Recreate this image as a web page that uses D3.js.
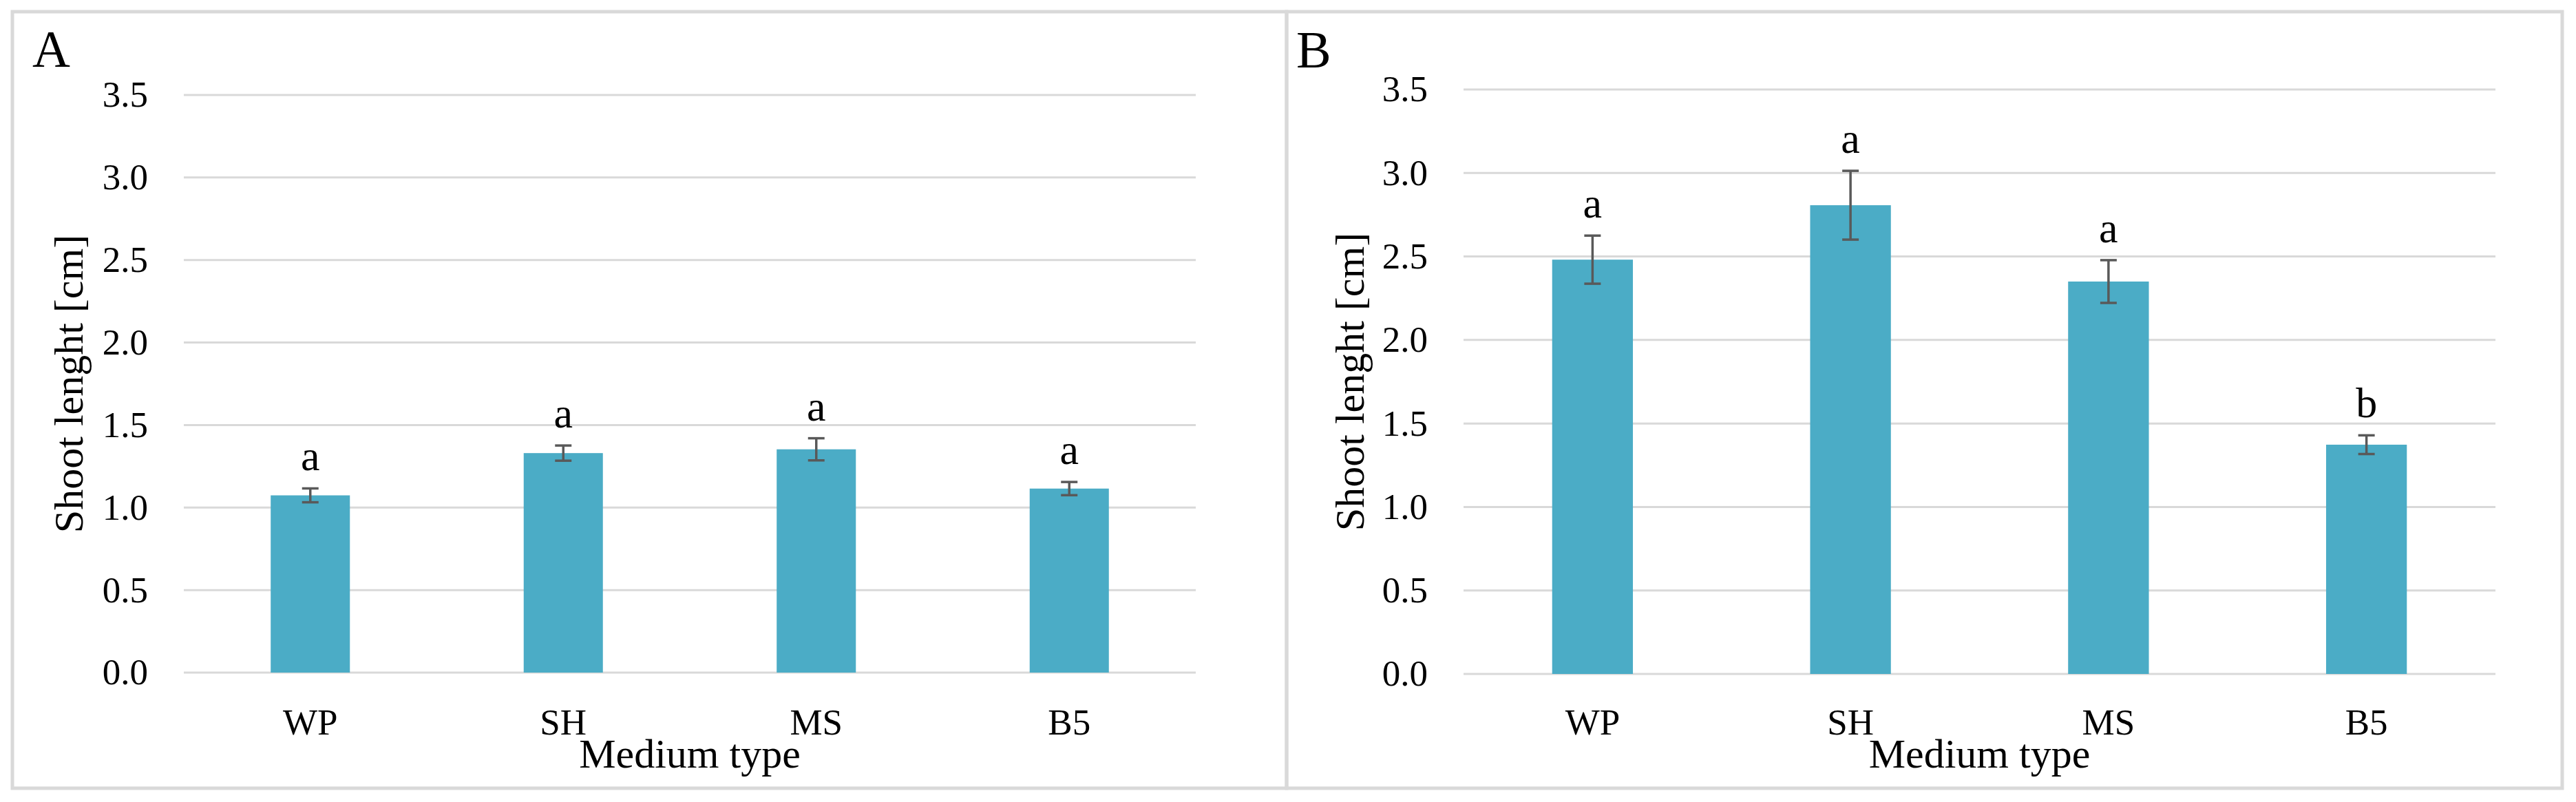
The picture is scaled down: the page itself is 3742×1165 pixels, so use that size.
<!DOCTYPE html>
<html>
<head>
<meta charset="utf-8">
<script src="https://cdn.jsdelivr.net/npm/d3@7/dist/d3.min.js"></script>
<style>
  html, body { margin: 0; padding: 0; background: #ffffff; }
  svg { display: block; }
  text { font-family: "Liberation Serif", "Times New Roman", serif; fill: #000; }
</style>
</head>
<body>
<svg id="chart" width="3742" height="1165"></svg>
<script>
// ---- data ----
const categories = ["WP", "SH", "MS", "B5"];
const yTicks = [0, 0.5, 1.0, 1.5, 2.0, 2.5, 3.0, 3.5];
const panelLetters = ["A", "B"];

const meansA = [1.074, 1.330, 1.353, 1.115];
const errorsA = [0.042, 0.046, 0.067, 0.040];
const lettersA = ["a", "a", "a", "a"];

const meansB = [2.481, 2.807, 2.350, 1.373];
const errorsB = [0.144, 0.206, 0.128, 0.056];
const lettersB = ["a", "a", "a", "b"];

const yTitle = "Shoot lenght [cm]";
const xTitle = "Medium type";

// ---- layout ----
const svg = d3.select("#chart");
const barColor = "#4bacc6";
const gridColor = "#d9d9d9";
const errColor = "#595959";

const panels = [
  { letter: panelLetters[0], means: meansA, errs: errorsA, letters: lettersA,
    frame: [18, 17, 1869, 1145], x0: 267, x1: 1737, yTop: 138, yBot: 977,
    letterPos: [47, 97], yTitleX: 120 },
  { letter: panelLetters[1], means: meansB, errs: errorsB, letters: lettersB,
    frame: [1869, 17, 3722, 1145], x0: 2126, x1: 3625, yTop: 130, yBot: 979,
    letterPos: [1883, 98], yTitleX: 1981 }
];

panels.forEach(p => {
  const g = svg.append("g");
  // frame
  g.append("rect")
    .attr("x", p.frame[0]).attr("y", p.frame[1])
    .attr("width", p.frame[2] - p.frame[0]).attr("height", p.frame[3] - p.frame[1])
    .attr("fill", "none").attr("stroke", gridColor).attr("stroke-width", 5);

  const x = d3.scaleBand().domain(categories).range([p.x0, p.x1])
    .paddingInner(0.687).paddingOuter(0.3435);
  const y = d3.scaleLinear().domain([0, 3.5]).range([p.yBot, p.yTop]);

  // gridlines
  g.append("g").selectAll("line").data(yTicks).join("line")
    .attr("x1", p.x0).attr("x2", p.x1)
    .attr("y1", d => y(d)).attr("y2", d => y(d))
    .attr("stroke", gridColor).attr("stroke-width", 3);

  // y axis labels
  const yAxis = d3.axisLeft(y).tickValues(yTicks).tickFormat(d3.format(".1f"))
    .tickSize(0).tickPadding(52);
  const ya = g.append("g").attr("transform", `translate(${p.x0},0)`).call(yAxis);
  ya.select(".domain").remove();
  ya.selectAll("text").style("font-size", "53px")
    .style("font-family", '"Liberation Serif", "Times New Roman", serif').attr("fill", "#000");

  const data = categories.map((c, i) => ({ c, v: p.means[i], e: p.errs[i], l: p.letters[i] }));

  // bars
  g.append("g").selectAll("rect").data(data).join("rect")
    .attr("x", d => x(d.c)).attr("width", x.bandwidth())
    .attr("y", d => y(d.v)).attr("height", d => y(0) - y(d.v))
    .attr("fill", barColor);

  // error bars
  const eg = g.append("g").attr("stroke", errColor).attr("stroke-width", 3.5);
  const cx = d => x(d.c) + x.bandwidth() / 2;
  eg.selectAll("line.v").data(data).join("line").attr("class", "v")
    .attr("x1", cx).attr("x2", cx)
    .attr("y1", d => y(d.v + d.e)).attr("y2", d => y(d.v - d.e));
  eg.selectAll("line.t").data(data).join("line").attr("class", "t")
    .attr("x1", d => cx(d) - 12).attr("x2", d => cx(d) + 12)
    .attr("y1", d => y(d.v + d.e)).attr("y2", d => y(d.v + d.e));
  eg.selectAll("line.b").data(data).join("line").attr("class", "b")
    .attr("x1", d => cx(d) - 12).attr("x2", d => cx(d) + 12)
    .attr("y1", d => y(d.v - d.e)).attr("y2", d => y(d.v - d.e));

  // significance letters
  g.append("g").selectAll("text").data(data).join("text")
    .attr("x", cx).attr("y", d => y(d.v + d.e) - 26)
    .attr("text-anchor", "middle").style("font-size", "62px")
    .text(d => d.l);

  // category labels
  g.append("g").selectAll("text").data(data).join("text")
    .attr("x", cx).attr("y", 1067)
    .attr("text-anchor", "middle").style("font-size", "53px")
    .text(d => d.c);

  // x title
  g.append("text")
    .attr("x", (p.x0 + p.x1) / 2).attr("y", 1115)
    .attr("text-anchor", "middle").style("font-size", "60px")
    .text(xTitle);

  // y title
  g.append("text")
    .attr("transform", `translate(${p.yTitleX},${(p.yTop + p.yBot) / 2}) rotate(-90)`)
    .attr("text-anchor", "middle").style("font-size", "60px")
    .text(yTitle);

  // panel letter
  g.append("text")
    .attr("x", p.letterPos[0]).attr("y", p.letterPos[1])
    .style("font-size", "76px")
    .text(p.letter);
});
</script>
</body>
</html>
